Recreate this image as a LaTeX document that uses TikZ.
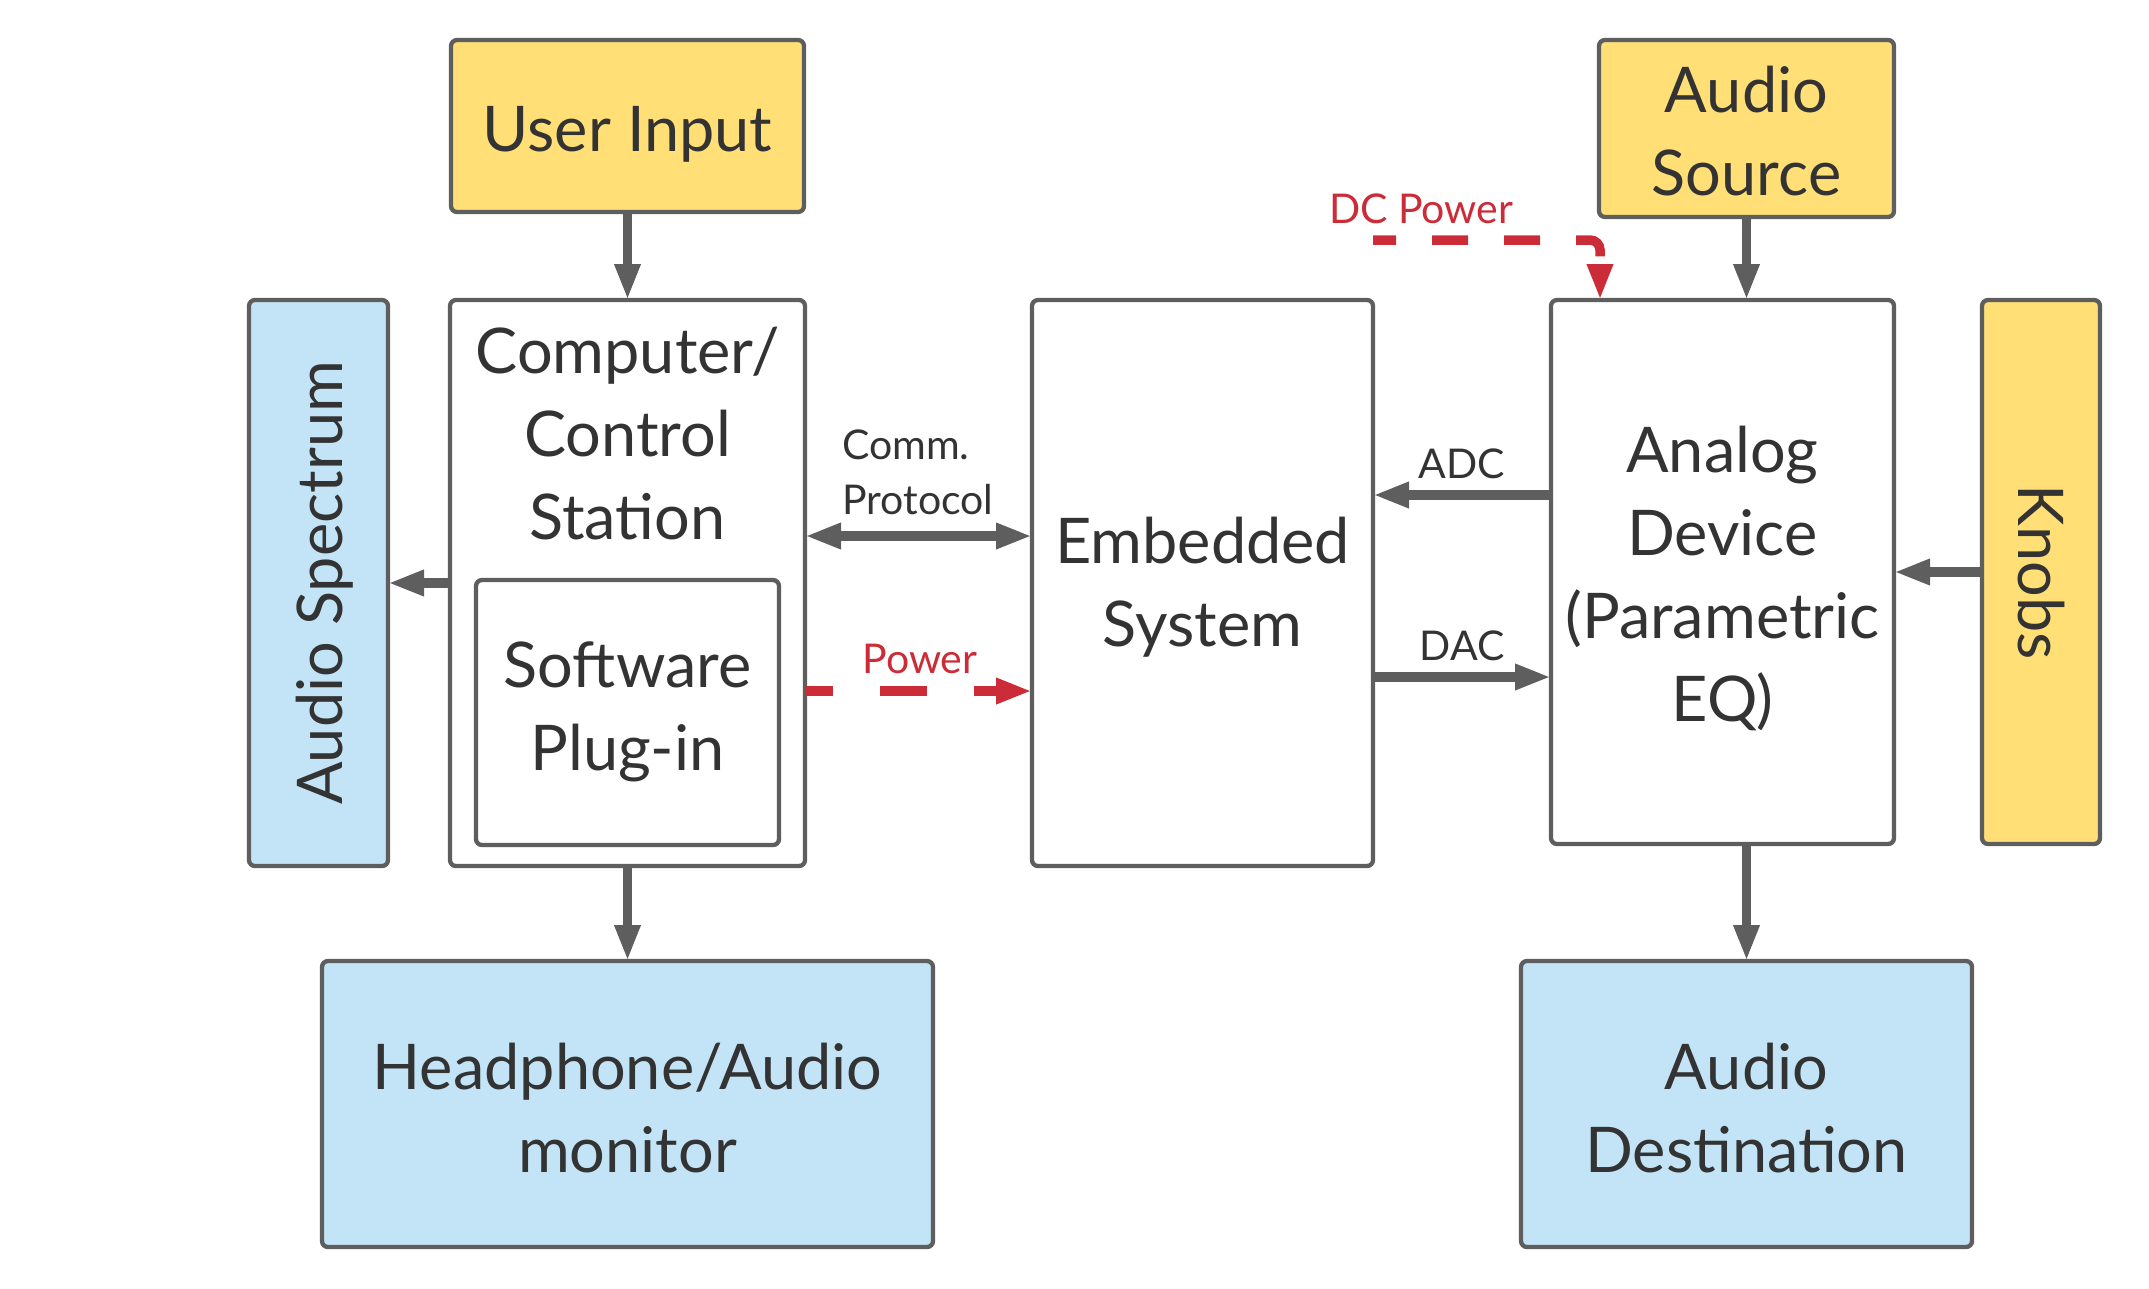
\documentclass[tikz,border=0pt]{standalone}
\usepackage{fontspec}
\setmainfont{Lato}
\usetikzlibrary{arrows.meta}
\definecolor{boxline}{HTML}{5E5E5E}
\definecolor{txt}{HTML}{333333}
\definecolor{yel}{HTML}{FFDF76}
\definecolor{blu}{HTML}{C3E4F6}
\definecolor{red1}{HTML}{CB2C37}
\tikzset{
  >={Triangle[length=36pt,width=24pt]},
  blk/.style={draw=boxline, line width=4.3pt, rounded corners=6pt, inner sep=0pt, outer sep=0pt},
  big/.style={font=\fontsize{63}{83}\selectfont, text=txt, align=center, inner sep=0pt},
  small/.style={font=\fontsize{41}{52}\selectfont, text=txt, inner sep=0pt},
  conn/.style={draw=boxline, line width=9.5pt, ->},
  pwr/.style={draw=red1, line width=9.5pt, ->},
}
\begin{document}
\begin{tikzpicture}[x=1pt,y=-1pt]
\useasboundingbox (0,0) rectangle (2149,1288);
% boxes
\node[blk, fill=yel, minimum width=353pt, minimum height=172pt] (ui) at (627.5,126) {};
\node[big] (uit) at (627.5,134) {User Input};
\node[blk, fill=yel, minimum width=295pt, minimum height=177pt] (as) at (1746.5,128.5) {};
\node[big] (ast) at (1746.5,131) {Audio\\Source};
\node[blk, fill=white, minimum width=355pt, minimum height=566pt] (cs) at (627.5,583) {};
\node[big] (cst) at (627.5,434) {Computer/\\Control\\Station};
\node[blk, fill=white, minimum width=303pt, minimum height=265pt] (sp) at (627.5,712.5) {};
\node[big] (spt) at (627.5,712) {Software\\Plug-in};
\node[blk, fill=blu, minimum width=139pt, minimum height=566pt] (spec) at (318.5,583) {};
\node[big, rotate=90] (spect) at (325,583) {Audio Spectrum};
\node[blk, fill=white, minimum width=341pt, minimum height=566pt] (es) at (1202.5,583) {};
\node[big] (est) at (1202.5,587) {Embedded\\System};
\node[blk, fill=white, minimum width=343pt, minimum height=544pt] (an) at (1722.5,572) {};
\node[big] (ant) at (1722.5,578) {Analog\\Device\\(Parametric\\EQ)};
\node[blk, fill=yel, minimum width=118pt, minimum height=544pt] (kn) at (2041,572) {};
\node[big, rotate=-90] (knt) at (kn.center) {Knobs};
\node[blk, fill=blu, minimum width=611pt, minimum height=286pt] (hp) at (627.5,1104) {};
\node[big] (hpt) at (627.5,1108) {Headphone/Audio\\monitor};
\node[blk, fill=blu, minimum width=451pt, minimum height=286pt] (ad) at (1746.5,1104) {};
\node[big] (adt) at (1746.5,1108) {Audio\\Destination};
% helper coordinates
\coordinate (ycomm) at (0,536);
\coordinate (ypow) at (0,691);
\coordinate (yadc) at (0,495);
\coordinate (ydac) at (0,677);
\coordinate (dcstart) at (1373,240);
\coordinate (dccorner) at (1600,240);
% connectors
\draw[conn] (ui.south) -- (cs.north);
\draw[conn] (cs.south) -- (hp.north);
\draw[conn] (as.south) -- (as.south |- an.north);
\draw[conn] (ad.north |- an.south) -- (ad.north);
\draw[conn] (kn.west) -- (an.east |- kn.west);
\draw[conn] (cs.west) -- (spec.east |- cs.west);
\draw[conn, <->] (cs.east |- ycomm) -- (es.west |- ycomm);
\draw[pwr, dash pattern=on 47pt off 47pt, dash phase=19pt] (cs.east |- ypow) -- (es.west |- ypow);
\draw[conn] (an.west |- yadc) -- (es.east |- yadc);
\draw[conn] (es.east |- ydac) -- (an.west |- ydac);
\draw[pwr, dash pattern=on 36pt off 36pt, dash phase=13pt, rounded corners=10pt] (dcstart) -- (dccorner) -- (dccorner |- an.north);
% labels
\node[small, anchor=base west] (lcomm) at (842,459) {Comm.};
\node[small, anchor=base west] (lprot) at (842,514) {Protocol};
\node[small, anchor=base, text=red1] (lpow) at (920,673) {Power};
\node[small, anchor=base, text=red1] (ldc) at (1421,223) {DC Power};
\node[small, anchor=base] (ladc) at (1462,478) {ADC};
\node[small, anchor=base] (ldac) at (1462,660) {DAC};
\end{tikzpicture}
\end{document}
